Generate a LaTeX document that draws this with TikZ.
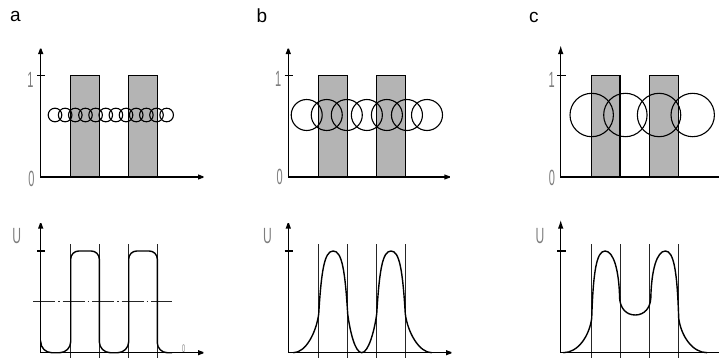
\documentclass[tikz,border=0pt]{standalone}
\usepackage{fontspec}
\usepackage{graphicx}
\setmainfont{Liberation Sans}
\usetikzlibrary{arrows.meta}
\definecolor{barfill}{RGB}{180,180,180}
\definecolor{labgray}{RGB}{125,125,125}
\begin{document}
\begin{tikzpicture}[x=1pt,y=1pt,
  axes/.style={line width=1.5pt,miter limit=2,{Latex[length=9pt,width=5.5pt]}-{Latex[length=9pt,width=5.5pt]}},
  axesopen/.style={line width=1.5pt,{Latex[length=9pt,width=5.5pt]}-},
  bar/.style={draw=black,line width=1.3pt,fill=barfill},
  ring/.style={draw=black,line width=1.1pt},
  guide/.style={draw=black!85,line width=0.6pt},
  curve/.style={draw=black,line width=1.4pt},
  tickmark/.style={line width=1.5pt},
  panel/.style={inner sep=0pt,font=\fontsize{19}{19}\selectfont},
  cad/.style={text=labgray,inner sep=0pt,font=\fontsize{22}{22}\selectfont},
  cadsmall/.style={text=labgray,inner sep=0pt,font=\fontsize{11}{11}\selectfont},
]
\useasboundingbox (0,0) rectangle (719,360);

% ---------------- panel labels
\node[panel] (la) at (15.3,343.8) {a};
\node[panel] (lb) at (262,344.5) {b};
\node[panel] (lc) at (533.8,342.5) {c};

% ================= panel a, top
\draw[bar] (70.7,183) rectangle (99.3,284.7);
\draw[bar] (128.7,183) rectangle (157.3,284.7);
\foreach \i in {0,...,11} \draw[ring] ({55+10.15*\i},245) circle (6.8);
\draw[axes] (40.7,315) -- (40.7,183) -- (207,183);
\draw[tickmark] (37,284.7) -- (44.5,284.7);
\node[cad] (a1) at (30.5,280) {\scalebox{0.5}[1]{1}};
\node[cad] (a0) at (31.5,181) {\scalebox{0.5}[1]{0}};

% ================= panel a, bottom
\foreach \x in {70.7,99.3,128.7,157.3} \draw[guide] (\x,2.5) -- (\x,116);
\draw[guide,dash pattern=on 22pt off 3pt on 1.5pt off 3pt] (33,58.3) -- (172,58.3);
\draw[curve,rounded corners=11pt] (40.7,19.3) -- (40.7,7.3) -- (70.7,7.3)
  [rounded corners=8pt] -- (70.7,109) -- (99.3,109)
  [rounded corners=11pt] -- (99.3,7.3) -- (128.7,7.3)
  [rounded corners=8pt] -- (128.7,109) -- (157.3,109)
  [rounded corners=10pt] -- (157.3,7.3) -- (172,7.3);
\draw[axes] (40.7,140.5) -- (40.7,7.3) -- (207,7.3);
\draw[tickmark] (37,109) -- (44.5,109);
\node[cad] (aU) at (16.7,124) {\scalebox{0.55}[1]{U}};
\node[cadsmall] (a0s) at (183.7,11) {\scalebox{0.5}[1]{0}};

% ================= panel b, top
\draw[bar] (318.7,183) rectangle (347.7,284.7);
\draw[bar] (376.7,183) rectangle (405.3,284.7);
\foreach \i in {0,...,6} \draw[ring] ({306.7+20.05*\i},245) circle (15.5);
\draw[axes] (288.3,315) -- (288.3,183) -- (453.3,183);
\draw[tickmark] (284.5,284.7) -- (292.5,284.7);
\node[cad] (b1) at (278.3,281) {\scalebox{0.5}[1]{1}};
\node[cad] (b0) at (279.7,183) {\scalebox{0.5}[1]{0}};

% ================= panel b, bottom
\foreach \x in {318.7,347.7,376.7,405.3} \draw[guide] (\x,2.5) -- (\x,116);
\draw[curve] (293.3,7.3)
  .. controls (306,7.3) and (316.3,28) .. (318.7,46)
  .. controls (321.4,90) and (324.5,109) .. (333.2,109)
  .. controls (341.9,109) and (345,90) .. (347.7,46)
  .. controls (349.9,29) and (355,7.3) .. (361.7,7.3)
  .. controls (368.4,7.3) and (374.4,29) .. (376.7,46)
  .. controls (379.4,90) and (382.5,109) .. (391,109)
  .. controls (399.5,109) and (402.6,90) .. (405.3,46)
  .. controls (407.6,28) and (419,7.3) .. (431.7,7.3);
\draw[axes] (288.3,140.5) -- (288.3,7.3) -- (455,7.3);
\draw[tickmark] (284.5,109) -- (292.5,109);
\node[cad] (bU) at (267.5,124) {\scalebox{0.55}[1]{U}};

% ================= panel c, top
\draw[bar] (591.7,183) rectangle (620,284.7);
\draw[bar] (649.3,183) rectangle (678.7,284.7);
\foreach \i in {0,...,3} \draw[ring] ({591.7+33.67*\i},245) circle (21.7);
\draw[axesopen] (560.7,315) -- (560.7,183) -- (719,183);
\draw[tickmark] (557,284.7) -- (566,284.7);
\node[cad] (c1) at (551.7,280) {\scalebox{0.5}[1]{1}};
\node[cad] (c0) at (552,182.5) {\scalebox{0.5}[1]{0}};

% ================= panel c, bottom
\foreach \x in {591.7,620,649.3,678.7} \draw[guide] (\x,2.5) -- (\x,116);
\draw[curve] (563.3,7.3)
  .. controls (578,7.3) and (589.3,24) .. (591.7,41.7)
  .. controls (593.2,88) and (596.5,109) .. (605,109)
  .. controls (613.5,109) and (619,90) .. (619.6,62)
  .. controls (620.1,52) and (626,45) .. (635.2,45)
  .. controls (644.4,45) and (650.3,52) .. (650.8,62)
  .. controls (651.4,90) and (656.9,109) .. (665.4,109)
  .. controls (673.9,109) and (677.2,88) .. (678.7,41.7)
  .. controls (681.1,24) and (692.4,7.3) .. (707.1,7.3);
\draw[axesopen] (560.7,140.5) -- (560.7,7.3) -- (719,7.3);
\draw[tickmark] (557,109) -- (566,109);
\node[cad] (cU) at (540,124) {\scalebox{0.55}[1]{U}};
\end{tikzpicture}
\end{document}
